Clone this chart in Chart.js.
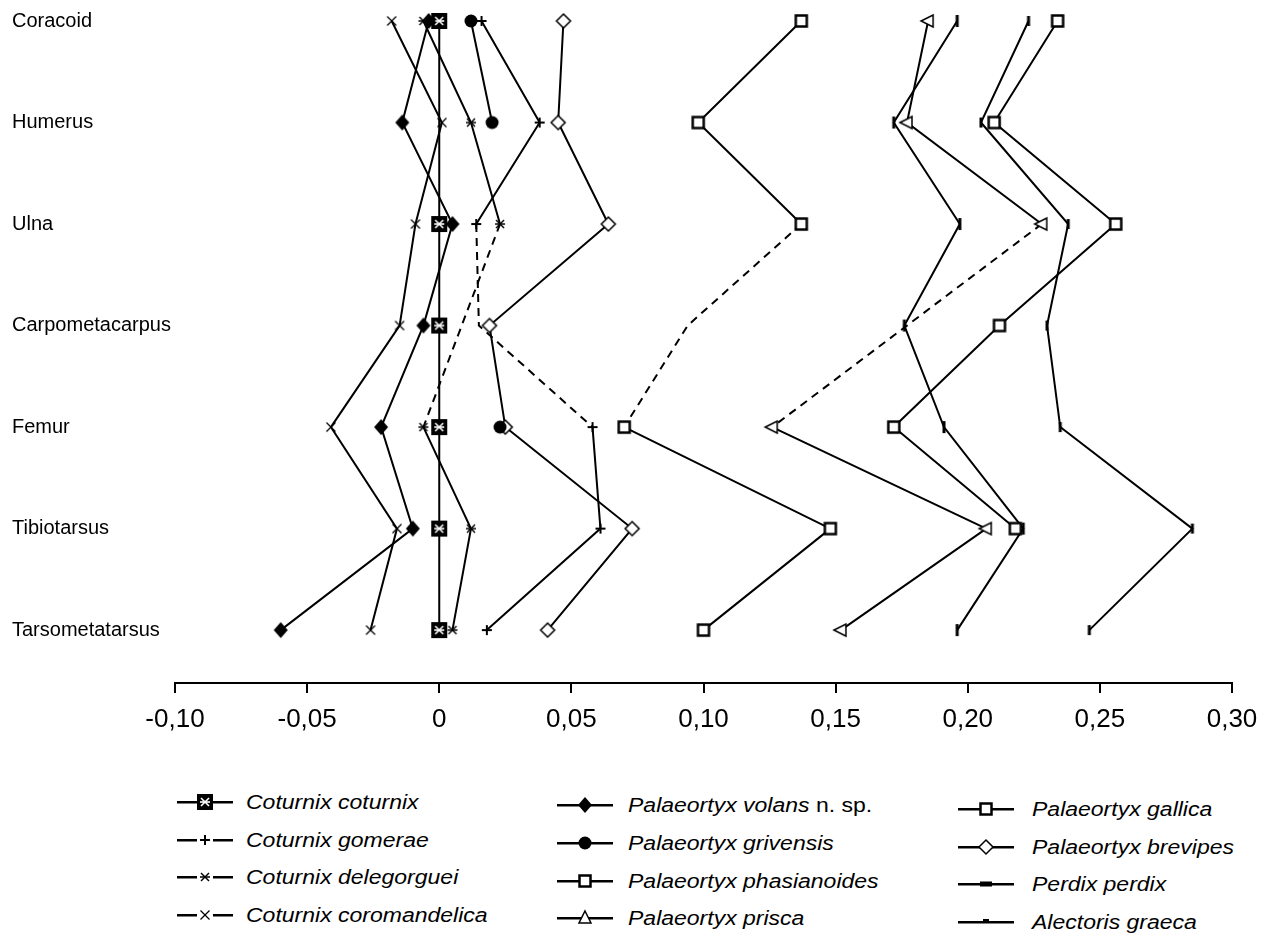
<!DOCTYPE html>
<html>
<head>
<meta charset="utf-8">
<title>Palaeortyx log-ratio diagram</title>
<script src="https://cdn.jsdelivr.net/npm/chart.js@4.4.1/dist/chart.umd.min.js"></script>
<style>
body { margin: 0; background: #fff; font-family: "Liberation Sans", Arial, sans-serif; }
#wrap { position: relative; width: 1263px; height: 933px; overflow: hidden; }
#chart { position: absolute; left: 0; top: 0; }
.item { position: absolute; height: 24px; display: flex; align-items: center; font-size: 20px; font-style: italic; color: #000; white-space: nowrap; }
.item canvas { display: block; }
.item .txt { display: inline-block; transform: scaleX(1.15); transform-origin: left center; }
.item .up { font-style: normal; }
</style>
</head>
<body>
<div id="wrap">
  <canvas id="chart" width="1263" height="740"></canvas>
  <div id="legend"></div>
</div>
<script>
// bones, top to bottom
const bones = ['Coracoid', 'Humerus', 'Ulna', 'Carpometacarpus', 'Femur', 'Tibiotarsus', 'Tarsometatarsus'];
const tickLabels = ['-0,10', '-0,05', '0', '0,05', '0,10', '0,15', '0,20', '0,25', '0,30'];

// log ratios against Coturnix coturnix (null = not measured)
const cotCoturnix      = [0, 0, 0, 0, 0, 0, 0];
const cotGomerae       = [0.016, 0.038, 0.014, 0.015, 0.058, 0.061, 0.018];
const cotDelegorguei   = [-0.006, 0.012, 0.023, null, -0.006, 0.012, 0.005];
const cotCoromandelica = [-0.018, 0.001, -0.009, -0.015, -0.041, -0.016, -0.026];
const palVolans        = [-0.004, -0.014, 0.005, -0.006, -0.022, -0.010, -0.060];
const palGrivensis     = [0.012, 0.020, null, null, 0.023, null, null];
const palPhasianoides  = [0.234, 0.210, 0.256, 0.212, 0.172, 0.218, null];
const palPrisca        = [0.185, 0.177, 0.228, null, 0.126, 0.207, 0.152];
const palGallica       = [0.137, 0.098, 0.137, 0.094, 0.070, 0.148, 0.100];
const palBrevipes      = [0.047, 0.045, 0.064, 0.019, 0.025, 0.073, 0.041];
const perdixPerdix     = [0.196, 0.172, 0.197, 0.176, 0.191, 0.221, 0.196];
const alectorisGraeca  = [0.223, 0.205, 0.238, 0.230, 0.235, 0.285, 0.246];

const series = [
    { label: 'Coturnix gomerae', data: cotGomerae, mark: 'plus' },
    { label: 'Coturnix delegorguei', data: cotDelegorguei, mark: 'star' },
    { label: 'Coturnix coromandelica', data: cotCoromandelica, mark: 'x' },
    { label: 'Palaeortyx volans n. sp.', data: palVolans, mark: 'dfill' },
    { label: 'Palaeortyx grivensis', data: palGrivensis, mark: 'cfill' },
    { label: 'Palaeortyx phasianoides', data: palPhasianoides, mark: 'sq' },
    { label: 'Palaeortyx prisca', data: palPrisca, mark: 'tri' },
    { label: 'Palaeortyx gallica', data: palGallica, mark: 'sq' },
    { label: 'Palaeortyx brevipes', data: palBrevipes, mark: 'dopen' },
    { label: 'Perdix perdix', data: perdixPerdix, mark: 'bar' },
    { label: 'Alectoris graeca', data: alectorisGraeca, mark: 'bar2' },
    { label: 'Coturnix coturnix', data: cotCoturnix, mark: 'box' }
];

// segments Ulna -> Carpometacarpus -> Femur drawn dashed
const dashedSeries = ['Coturnix gomerae', 'Coturnix delegorguei', 'Palaeortyx gallica', 'Palaeortyx prisca'];
const hiddenPoints = { 'Coturnix coturnix': [1], 'Coturnix gomerae': [3], 'Palaeortyx gallica': [3] };
const noSpan = ['Palaeortyx grivensis'];

function makeMarker(kind) {
    const c = document.createElement('canvas');
    c.width = 20;
    c.height = 20;
    const g = c.getContext('2d');
    g.translate(10, 10);
    g.strokeStyle = '#000';
    g.fillStyle = '#000';
    const seg = (a, b, p, q) => { g.beginPath(); g.moveTo(a, b); g.lineTo(p, q); g.stroke(); };
    const poly = (pts) => { g.beginPath(); pts.forEach((p, i) => i ? g.lineTo(p[0], p[1]) : g.moveTo(p[0], p[1])); g.closePath(); };
    if (kind === 'box') {
        g.fillRect(-8, -8, 16, 16);
        g.strokeStyle = '#fff';
        g.lineWidth = 1.6;
        seg(-4, -4, 4, 4); seg(-4, 4, 4, -4); seg(-5, 0, 5, 0);
    } else if (kind === 'plus') {
        g.lineWidth = 2;
        seg(-5, 0, 5, 0); seg(0, -5, 0, 5);
    } else if (kind === 'star') {
        g.lineWidth = 1.5;
        seg(-4, -4, 4, 4); seg(-4, 4, 4, -4); seg(-5, 0, 5, 0);
    } else if (kind === 'x') {
        g.lineWidth = 1.3;
        seg(-4.5, -4.5, 4.5, 4.5); seg(-4.5, 4.5, 4.5, -4.5);
    } else if (kind === 'dfill') {
        poly([[0, -8], [7, 0], [0, 8], [-7, 0]]);
        g.fill();
    } else if (kind === 'cfill') {
        g.beginPath(); g.arc(0, 0, 6.5, 0, Math.PI * 2); g.fill();
    } else if (kind === 'sq') {
        g.fillStyle = '#fff';
        g.fillRect(-6, -6, 12, 12);
        g.lineWidth = 2.5;
        g.strokeRect(-5.5, -5.5, 11, 11);
    } else if (kind === 'dopen') {
        poly([[0, -7], [7, 0], [0, 7], [-7, 0]]);
        g.fillStyle = '#fff'; g.fill();
        g.lineWidth = 1.5; g.stroke();
    } else if (kind === 'tri') {
        poly([[-7, 0], [5, -6], [5, 6]]);
        g.fillStyle = '#fff'; g.fill();
        g.lineWidth = 1.5; g.stroke();
    } else if (kind === 'triUp') {
        poly([[0, -7], [6, 5], [-6, 5]]);
        g.fillStyle = '#fff'; g.fill();
        g.lineWidth = 1.5; g.stroke();
    } else if (kind === 'bar') {
        g.fillRect(-1.5, -6, 3, 12);
    } else if (kind === 'bar2') {
        g.fillRect(-1.5, -5, 3, 10);
    }
    return c;
}

const markers = {};
['box', 'plus', 'star', 'x', 'dfill', 'cfill', 'sq', 'dopen', 'tri', 'triUp', 'bar', 'bar2'].forEach(k => markers[k] = makeMarker(k));

const datasets = series.map(s => ({
    label: s.label,
    data: s.data.map((v, i) => ({ x: v, y: i })),
    showLine: true,
    borderColor: '#000',
    backgroundColor: '#000',
    borderWidth: 2,
    pointStyle: markers[s.mark],
    pointRadius: ctx => (hiddenPoints[s.label] || []).includes(ctx.dataIndex) ? 0 : 6,
    spanGaps: !noSpan.includes(s.label),
    clip: false,
    segment: {
        borderDash: ctx => dashedSeries.includes(s.label) && (ctx.p0DataIndex === 2 || ctx.p0DataIndex === 3) ? [8, 6] : undefined
    }
}));

Chart.defaults.font.family = '"Liberation Sans", Arial, sans-serif';
Chart.defaults.color = '#000';

new Chart(document.getElementById('chart'), {
    type: 'scatter',
    data: { datasets },
    options: {
        responsive: false,
        animation: false,
        events: [],
        layout: { padding: { left: 12, right: 31, top: 0, bottom: 0 } },
        plugins: { legend: { display: false }, tooltip: { enabled: false } },
        scales: {
            x: {
                type: 'linear',
                position: 'bottom',
                min: -0.1,
                max: 0.3,
                ticks: {
                    stepSize: 0.05,
                    autoSkip: false,
                    maxRotation: 0,
                    padding: 11,
                    font: { size: 26 },
                    callback: (v, i) => tickLabels[i]
                },
                grid: { drawOnChartArea: false, drawTicks: true, tickLength: 10, color: '#000', lineWidth: 2 },
                border: { display: true, color: '#000', width: 2 },
                afterFit: sc => {
                    sc.height = 57;
                    sc.paddingLeft = 0;
                    sc.paddingRight = 0;
                }
            },
            y: {
                type: 'linear',
                reverse: true,
                min: -0.128,
                max: 6.521,
                afterBuildTicks: sc => { sc.ticks = bones.map((b, i) => ({ value: i })); },
                ticks: {
                    autoSkip: false,
                    crossAlign: 'far',
                    font: { size: 20 },
                    callback: v => bones[v]
                },
                grid: { display: false },
                border: { display: false },
                afterFit: sc => {
                    sc.width = 163;
                    sc.paddingTop = 0;
                    sc.paddingBottom = 0;
                }
            }
        }
    }
});

// legend, three columns like the original figure
const legendCols = [
    ['Coturnix coturnix', 'Coturnix gomerae', 'Coturnix delegorguei', 'Coturnix coromandelica'],
    ['Palaeortyx volans n. sp.', 'Palaeortyx grivensis', 'Palaeortyx phasianoides', 'Palaeortyx prisca'],
    ['Palaeortyx gallica', 'Palaeortyx brevipes', 'Perdix perdix', 'Alectoris graeca']
];
const colLeft = [176, 556, 957];
const colGap = [12, 14, 17];
const rowY = [[802, 840, 877, 915], [805, 843, 881, 918], [809, 847, 884, 922]];
const gappedLine = ['plus', 'star', 'x'];

const legend = document.getElementById('legend');
legendCols.forEach((col, c) => {
    col.forEach((name, r) => {
        const s = series.find(d => d.label === name);
        const item = document.createElement('div');
        item.className = 'item';
        item.style.left = colLeft[c] + 'px';
        item.style.top = (rowY[c][r] - 12) + 'px';

        const sym = document.createElement('canvas');
        sym.width = 58;
        sym.height = 24;
        sym.style.marginRight = colGap[c] + 'px';
        const g = sym.getContext('2d');
        g.fillStyle = '#000';
        if (gappedLine.includes(s.mark)) {
            g.fillRect(1, 11, 20, 2.5);
            g.fillRect(37, 11, 20, 2.5);
        } else {
            g.fillRect(1, 11, 56, 2.5);
        }
        if (s.mark === 'bar') {
            g.fillRect(23, 9.5, 12, 5);
        } else if (s.mark === 'bar2') {
            g.fillRect(26, 9, 6, 4);
        } else {
            g.drawImage(markers[s.mark === 'tri' ? 'triUp' : s.mark], 19, 2);
        }
        item.appendChild(sym);

        const txt = document.createElement('span');
        txt.className = 'txt';
        if (name.endsWith(' n. sp.')) {
            const it = document.createElement('span');
            it.textContent = name.replace(' n. sp.', '');
            const up = document.createElement('span');
            up.className = 'up';
            up.textContent = '\u00a0n. sp.';
            txt.appendChild(it);
            txt.appendChild(up);
        } else {
            txt.textContent = name;
        }
        item.appendChild(txt);
        legend.appendChild(item);
    });
});
</script>
</body>
</html>
